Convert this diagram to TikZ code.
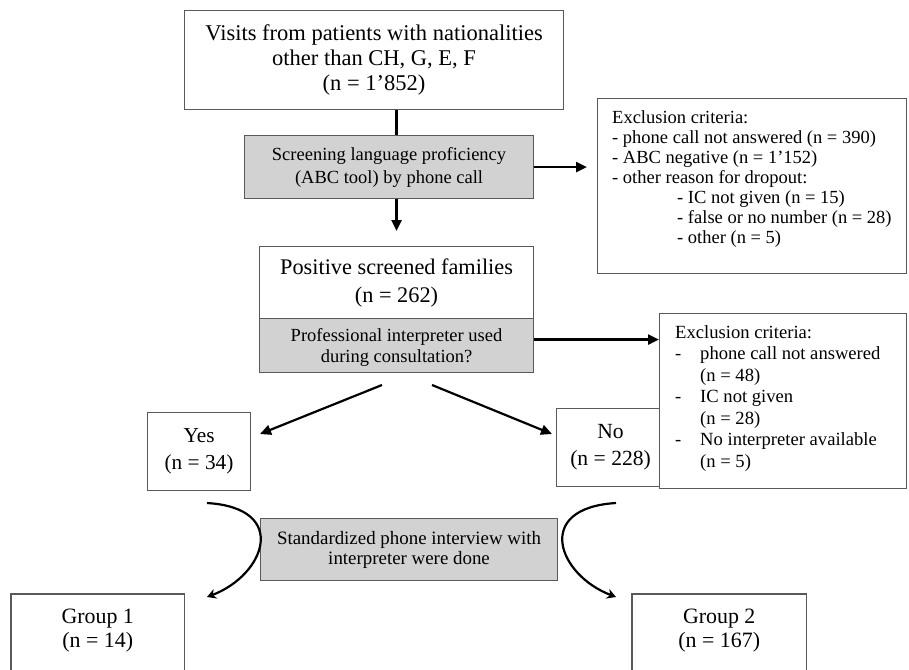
\documentclass[tikz,border=0pt]{standalone}
\usepackage{fontspec}
\setmainfont{Liberation Serif}
\usetikzlibrary{arrows.meta,calc}
\begin{document}
\begin{tikzpicture}[x=1pt,y=-1pt,
  box/.style={draw=black!65, line width=1.1pt, fill=white, inner sep=0pt, anchor=north west},
  graybox/.style={box, fill=gray!35},
  boxline/.style={draw=black!65, line width=1.1pt},
  arr/.style={line width=2.2pt, -{Triangle[length=11pt,width=10pt]}},
  carr/.style={line width=2.2pt, -{Stealth[length=9pt,width=10pt]}},
  big/.style={font=\fontsize{22.5}{25}\selectfont, align=center},
  mid/.style={font=\fontsize{18.5}{23}\selectfont, align=center},
  ]
\clip (0,0) rectangle (909,669);
\fill[white] (0,0) rectangle (909,669);

\node[box, big, minimum width=379pt, minimum height=99pt] (top) at (184,10)
  {Visits from patients with nationalities\\other than CH, G, E, F\\(n = 1’852)};
\node[graybox, mid, minimum width=289pt, minimum height=63pt] (screen) at (244,135)
  {Screening language proficiency\\(ABC tool) by phone call};
\node[box, font=\fontsize{22.3}{28}\selectfont, align=center, minimum width=274pt, minimum height=72pt] (pos) at (259,246)
  {Positive screened families\\(n = 262)};
\node[graybox, minimum width=274pt, minimum height=54pt] (interp) at (259,318) {};
\begin{scope}
  \clip (interp.north west) rectangle ([yshift=8pt]interp.south east);
  \node[align=center, font=\fontsize{18.5}{21}\selectfont, inner sep=0pt] (interptext) at ([yshift=-2pt]interp.center)
    {Professional interpreter used\\during consultation?};
\end{scope}

\node[box, minimum width=309pt, minimum height=175pt] (exc1) at (597,98) {};
\node[anchor=north west, align=left, font=\fontsize{18.5}{20}\selectfont, inner sep=0pt] (exc1text) at (612,110)
  {Exclusion criteria:\\
   - phone call not answered (n = 390)\\
   - ABC negative (n = 1’152)\\
   - other reason for dropout:\\
   \hspace*{65pt}- IC not given (n = 15)\\
   \hspace*{65pt}- false or no number (n = 28)\\
   \hspace*{65pt}- other (n = 5)};

\node[box, font=\fontsize{21.3}{27}\selectfont, align=center, minimum width=103pt, minimum height=78pt] (yes) at (147,412)
  {Yes\\(n = 34)};
\node[box, font=\fontsize{21.6}{27}\selectfont, align=center, minimum width=108pt, minimum height=78pt] (no) at (556,408)
  {No\\(n = 228)};

\node[box, minimum width=247pt, minimum height=175pt] (exc2) at (659,313) {};
\node[anchor=north west, align=left, font=\fontsize{18.6}{21.5}\selectfont, inner sep=0pt] (exc2text) at (675,325)
  {Exclusion criteria:\\
   \makebox[25pt][l]{-}phone call not answered\\
   \hspace*{25pt}(n = 48)\\
   \makebox[25pt][l]{-}IC not given\\
   \hspace*{25pt}(n = 28)\\
   \makebox[25pt][l]{-}No interpreter available\\
   \hspace*{25pt}(n = 5)};

\node[graybox, font=\fontsize{18.9}{20}\selectfont, align=center, minimum width=297pt, minimum height=62pt] (interview) at (260,518)
  {Standardized phone interview with\\interpreter were done};

\node[anchor=north west, inner sep=0pt, font=\fontsize{21.9}{24}\selectfont, align=center, minimum width=173pt, minimum height=72pt] (group1) at (11,594)
  {Group 1\\(n = 14)};
\draw[boxline] ([yshift=-30pt]group1.south west) -- (group1.north west) -- (group1.north east) -- ([yshift=-30pt]group1.south east);
\node[anchor=north west, inner sep=0pt, font=\fontsize{21.9}{24}\selectfont, align=center, minimum width=174pt, minimum height=72pt] (group2) at (632,594)
  {Group 2\\(n = 167)};
\draw[boxline] ([yshift=-30pt]group2.south west) -- (group2.north west) -- (group2.north east) -- ([yshift=-30pt]group2.south east);

% connectors
\draw[line width=2.2pt] (top.south -| pos.north) -- (screen.north -| pos.north);
\draw[arr, shorten >=15pt] (screen.south -| pos.north) -- (pos.north);
\draw[arr, shorten >=10pt] (screen.east) -- (screen.east -| exc1.west);
\draw[arr] ([yshift=6pt]interp.east) -- ([yshift=6pt]interp.east -| exc2.west);

\coordinate (dl) at (382,385);
\coordinate (dr) at (432,385);
\coordinate (yesend) at (260,434);
\coordinate (noend) at (552,434);
\draw[arr] (dl) -- (yesend);
\draw[arr] (dr) -- (noend);

\coordinate (c1s) at (207,503);
\coordinate (c1e) at (207,597);
\coordinate (c2s) at (616,503);
\coordinate (c2e) at (616,597);
\draw[carr] (c1s) .. controls (290,508) and (265,575) .. (c1e);
\draw[carr] (c2s) .. controls (533,508) and (558,575) .. (c2e);
\end{tikzpicture}
\end{document}
